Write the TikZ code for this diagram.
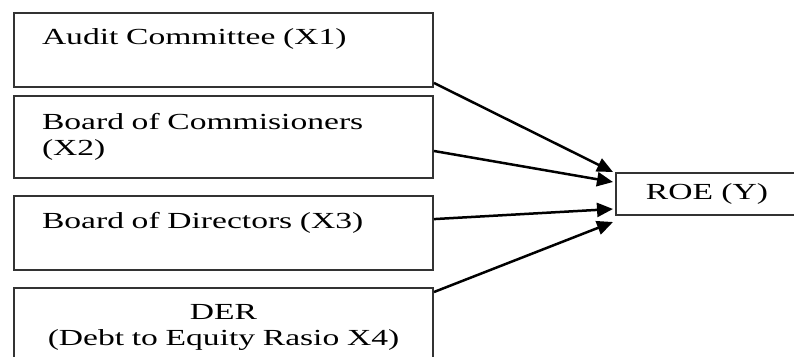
\documentclass[tikz,border=0pt]{standalone}
\usepackage{fontspec}
\setmainfont{Liberation Serif}[FakeStretch=1.46]
\usetikzlibrary{arrows.meta}

\tikzstyle{factor}=[draw=black!80,line width=2pt,rectangle,anchor=north west,text width=363pt,inner xsep=28pt,inner ysep=16pt,font=\fontsize{23}{26}\selectfont]
\tikzstyle{target}=[draw=black!80,line width=2pt,rectangle,anchor=north west,minimum width=182pt,minimum height=42pt,font=\fontsize{23}{26}\selectfont]
\tikzstyle{edge} = [draw,line width=2.5pt,-{Triangle[length=16pt,width=14pt]}]

\begin{document}
\begin{tikzpicture}[x=1pt, y=-1pt]
    \useasboundingbox (0,0) rectangle (794,356);
    \clip (0,0) rectangle (794,356);
    % First we draw the boxes
    \node[factor, align=left, minimum height=71pt] (audit) at (13,12) {Audit Committee (X1)\\\mbox{}};
    \node[factor, align=left, minimum height=82pt] (commis) at (13,95) {Board of Commisioners\\(X2)};
    \node[factor, align=left, minimum height=74pt] (directors) at (13,195) {Board of Directors (X3)\\\mbox{}};
    \node[factor, align=center] (der) at (13,287) {DER\\(Debt to Equity Rasio X4)};
    \node[target] (roe) at (615,172) {ROE (Y)};
    % Ends of the arrows
    \coordinate (s1) at ([yshift=5pt]audit.south east);
    \coordinate (s2) at ([yshift=28pt]commis.south east);
    \coordinate (s3) at ([yshift=14pt]directors.east);
    \coordinate (s4) at ([yshift=-5pt]der.north east);
    \coordinate (t1) at ([xshift=-2pt]roe.north west);
    \coordinate (t2) at ([xshift=-2pt,yshift=-10pt]roe.north west);
    \coordinate (t3) at ([xshift=-2pt,yshift=7pt]roe.south west);
    \coordinate (t4) at ([xshift=-2pt,yshift=-6pt]roe.south west);
    % Connect the boxes with arrows
    \foreach \source/ \dest in {s1/t1,s2/t2,s3/t3,s4/t4}
        \path[edge] (\source) -- (\dest);
\end{tikzpicture}
\end{document}
